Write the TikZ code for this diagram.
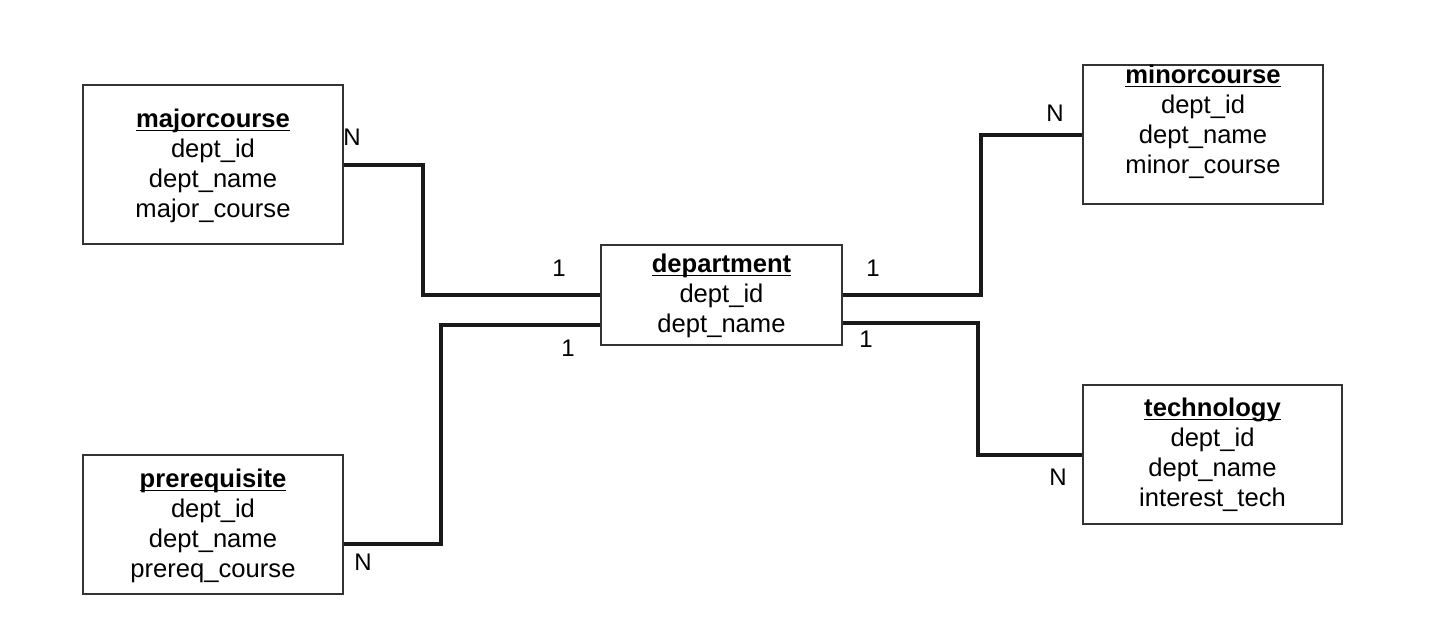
\documentclass[tikz,border=0pt]{standalone}
\usepackage{fontspec}
\setmainfont{Liberation Sans}
\usetikzlibrary{calc}
\newcommand{\tabtitle}[1]{\underline{\smash{\textbf{#1}}}\vphantom{\textbf{#1}}} % заголовок таблицы
\begin{document}
\begin{tikzpicture}[x=0.5pt, y=-0.5pt] % координаты в пикселях
\tikzstyle{entity} = [draw=black!80, line width=0.75pt, inner sep=0pt] % рамка таблицы
\tikzstyle{fields} = [align=center, inner sep=0pt, font=\fontsize{12.8}{15}\selectfont] % список полей
\tikzstyle{link} = [draw=black!90, line width=2pt] % связь
\tikzstyle{card} = [inner sep=0pt, font=\fontsize{12}{14}\selectfont] % кратность связи

\useasboundingbox (0,0) rectangle (1440,634);

% таблицы
\node[entity, minimum width=130pt, minimum height=79.5pt] (major) at (213,164.5) {};
\node[fields] (majort) at (213,166) {\tabtitle{majorcourse}\\dept\_id\\dept\_name\\major\_course};
\node[entity, minimum width=130pt, minimum height=69.5pt] (prereq) at (213,524.5) {};
\node[fields] (prereqt) at (213,526) {\tabtitle{prerequisite}\\dept\_id\\dept\_name\\prereq\_course};
\node[entity, minimum width=120.5pt, minimum height=50pt] (dept) at (721.5,295) {};
\node[fields] (deptt) at (721.5,296) {\tabtitle{department}\\dept\_id\\dept\_name};
\node[entity, minimum width=120pt, minimum height=69.5pt] (minor) at (1203,134.5) {};
\node[fields] (minort) at (1203,122) {\tabtitle{minorcourse}\\dept\_id\\dept\_name\\minor\_course};
\node[entity, minimum width=129.5pt, minimum height=69.5pt] (tech) at (1212.5,454.5) {};
\node[fields] (techt) at (1212.5,455) {\tabtitle{technology}\\dept\_id\\dept\_name\\interest\_tech};

% связи
\draw[link] (major.east) -- ++(79,0) |- (dept.west);
\draw[link] ($(prereq.east)+(0,19)$) -- ++(97,0) |- ($(dept.west)+(0,30)$);
\draw[link] (dept.east) -- ++(138,0) |- (minor.west);
\draw[link] ($(dept.east)+(0,28)$) -- ++(135,0) |- (tech.west);

% кратности
\node[card] (nmajor) at (352,137) {N};
\node[card] (nmajord) at (559,268) {1};
\node[card] (nprereq) at (363,562) {N};
\node[card] (nprereqd) at (568,348) {1};
\node[card] (nminord) at (873,268) {1};
\node[card] (nminor) at (1055,113) {N};
\node[card] (ntechd) at (866,339) {1};
\node[card] (ntech) at (1058,477) {N};
\end{tikzpicture}
\end{document}
